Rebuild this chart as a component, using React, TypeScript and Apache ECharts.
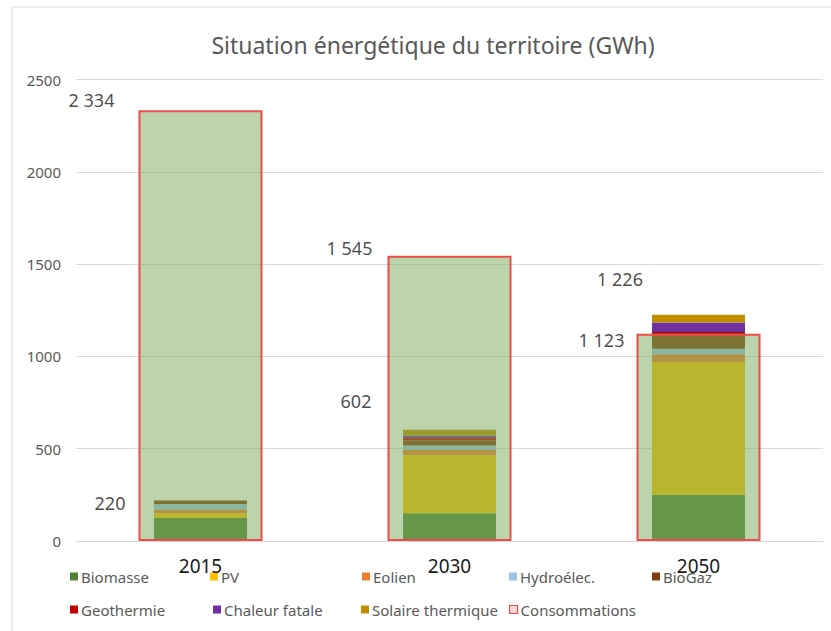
import React, { useEffect, useRef } from "react";
import * as echarts from "echarts";

const years = ["2015", "2030", "2050"];
const biomasse = [125, 150, 250];
const pv = [25, 315, 720];
const eolien = [20, 28, 42];
const hydro = [30, 25, 30];
const biogaz = [20, 28, 85];
const geothermie = [0, 12, 5];
const chaleurFatale = [0, 14, 52];
const solaireThermique = [0, 30, 42];
const consommations = [2334, 1545, 1123];
const totals = [220, 602, 1226];
const yTicks = { min: 0, max: 2500, interval: 500 };

const prodSeries = [
  { name: "Biomasse", data: biomasse, color: "#548235" },
  { name: "PV", data: pv, color: "#FFC000" },
  { name: "Eolien", data: eolien, color: "#ED7D31" },
  { name: "Hydroélec.", data: hydro, color: "#9DC3E6" },
  { name: "BioGaz", data: biogaz, color: "#843C0C" },
  { name: "Geothermie", data: geothermie, color: "#C00000" },
  { name: "Chaleur fatale", data: chaleurFatale, color: "#7030A0" },
  { name: "Solaire thermique", data: solaireThermique, color: "#BF8F00" },
];

const fmt = (v: number) => String(v).replace(/\B(?=(\d{3})+(?!\d))/g, " ");

const consoOffsets = [
  [-109, -10.5],
  [-100, -7.5],
  [-97, 6.5],
];
const totalOffsets = [
  [-90.5, 2.5],
  [-93.5, -29],
  [-78.5, -36],
];

const legendPos: [string, number, number][] = [
  ["Biomasse", 70, 0],
  ["PV", 210, 0],
  ["Eolien", 362, 0],
  ["Hydroélec.", 509, 0],
  ["BioGaz", 652, 0],
  ["Geothermie", 70, 1],
  ["Chaleur fatale", 213, 1],
  ["Solaire thermique", 361, 1],
  ["Consommations", 509, 1],
];

const FONT = "'Noto Sans', 'Open Sans', sans-serif";

export default function App() {
  const ref = useRef<HTMLDivElement>(null);
  useEffect(() => {
    if (!ref.current) return;
    const chart = echarts.init(ref.current, null, { renderer: "svg" });
    const labelStyle = {
      show: true,
      color: "#1a1a1a",
      fontSize: 18,
      fontFamily: FONT,
      align: "center",
      verticalAlign: "middle",
    };
    const option: any = {
      animation: false,
      backgroundColor: "#ffffff",
      textStyle: { fontFamily: FONT },
      title: {
        text: "Situation énergétique du territoire (GWh)",
        left: 428,
        top: 28,
        textAlign: "center",
        textStyle: {
          fontSize: 23,
          fontWeight: "normal",
          color: "#595959",
          fontFamily: FONT,
        },
      },
      graphic: [
        {
          type: "rect",
          shape: { x: 12, y: 7, width: 840, height: 640 },
          style: { fill: "none", stroke: "#D9D9D9", lineWidth: 1 },
          silent: true,
          z: -10,
        },
      ],
      legend: legendPos.map(([name, left, row]) => {
        const lg: any = {
          data: [name],
          left,
          top: row === 0 ? 569 : 602,
          padding: 0,
          icon: "rect",
          itemWidth: 8,
          itemHeight: 8,
          selectedMode: false,
          textStyle: {
            fontSize: 15,
            color: "#595959",
            fontFamily: FONT,
            padding: [0, 0, 0, -2],
          },
        };
        if (name === "Consommations") {
          lg.itemStyle = { color: "#F9DADA", borderColor: "#EE4B4B", borderWidth: 1.2 };
        }
        return lg;
      }),
      grid: { left: 76, right: 8, top: 79.5, bottom: 90, containLabel: false },
      xAxis: [
        {
          type: "category",
          data: years,
          axisLine: { show: true, lineStyle: { color: "#D9D9D9" } },
          axisTick: { show: false },
          axisLabel: {
            color: "#1a1a1a",
            fontSize: 19,
            fontFamily: FONT,
            margin: 15,
          },
          z: 10,
        },
        {
          type: "category",
          data: years,
          show: false,
        },
      ],
      yAxis: {
        type: "value",
        min: yTicks.min,
        max: yTicks.max,
        interval: yTicks.interval,
        axisLine: { show: false },
        axisTick: { show: false },
        splitLine: { lineStyle: { color: "#D9D9D9", width: 1 } },
        axisLabel: {
          color: "#595959",
          fontSize: 15,
          fontFamily: FONT,
          margin: 15,
          formatter: (v: number) => String(v),
        },
      },
      series: [
        ...prodSeries.map((s) => ({
          name: s.name,
          type: "bar",
          stack: "prod",
          xAxisIndex: 0,
          barWidth: 93,
          data: s.data,
          itemStyle: { color: s.color },
          z: 2,
        })),
        {
          name: "Consommations",
          type: "bar",
          xAxisIndex: 1,
          barWidth: 124,
          data: consommations,
          itemStyle: {
            color: "rgba(120,170,90,0.5)",
            borderColor: "#EE4B4B",
            borderWidth: 2,
          },
          z: 5,
        },
        {
          name: "consoLabels",
          type: "scatter",
          xAxisIndex: 0,
          symbolSize: 0,
          silent: true,
          data: consommations.map((v, i) => ({
            value: v,
            label: { ...labelStyle, offset: consoOffsets[i] },
          })),
          label: { ...labelStyle, position: "inside", formatter: (p: any) => fmt(p.value) },
          z: 10,
        },
        {
          name: "totalLabels",
          type: "scatter",
          xAxisIndex: 0,
          symbolSize: 0,
          silent: true,
          data: totals.map((v, i) => ({
            value: v,
            label: { ...labelStyle, offset: totalOffsets[i] },
          })),
          label: { ...labelStyle, position: "inside", formatter: (p: any) => fmt(p.value) },
          z: 10,
        },
      ],
    };
    chart.setOption(option);
    return () => chart.dispose();
  }, []);
  return (
    <div
      ref={ref}
      style={{ position: "fixed", left: 0, top: 0, width: 831, height: 631 }}
    />
  );
}
